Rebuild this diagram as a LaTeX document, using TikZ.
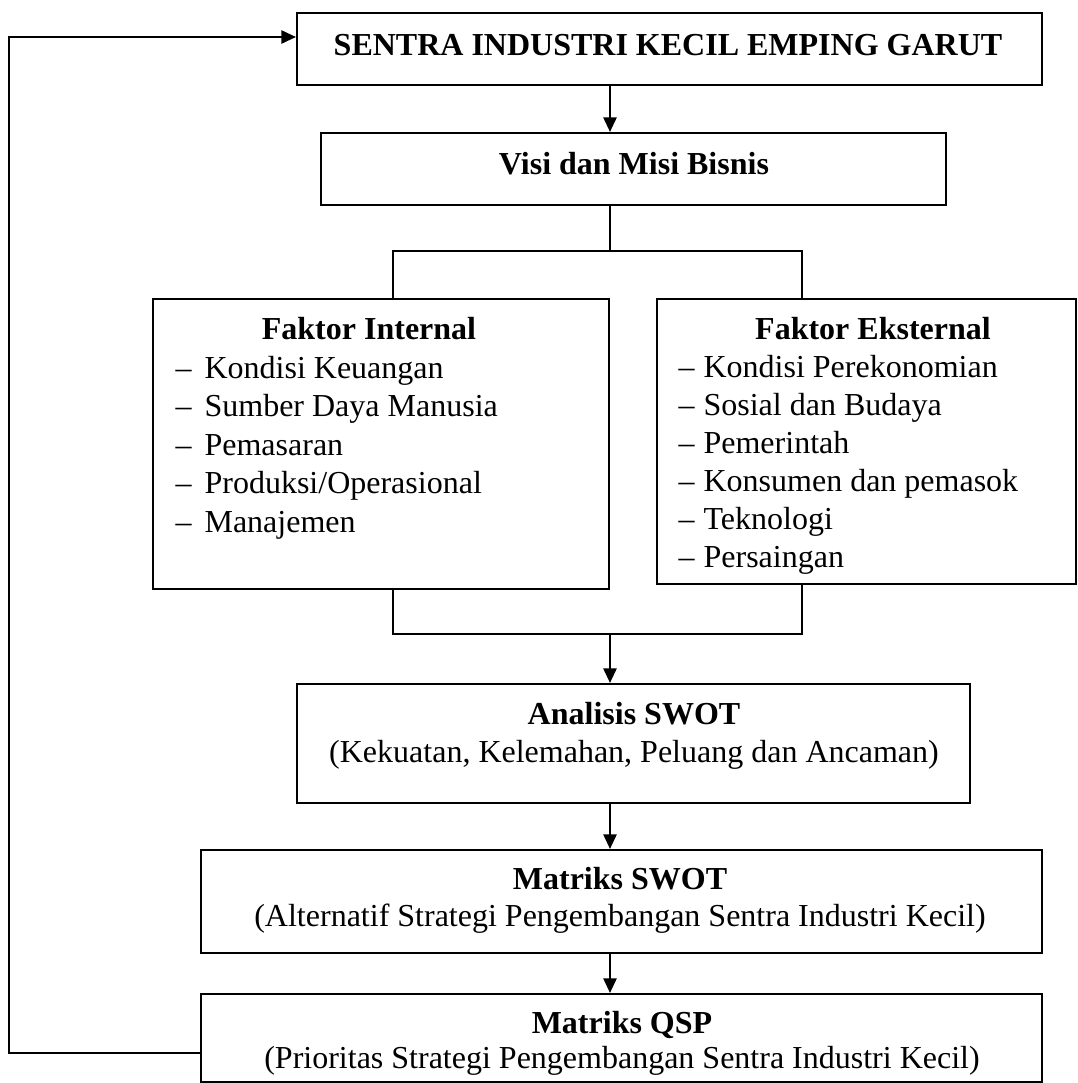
\documentclass[tikz,border=0pt]{standalone}
\usepackage{fontspec}
\setmainfont{Liberation Serif}
\usetikzlibrary{arrows.meta, fit, positioning}

\begin{document}
\begin{tikzpicture}[
    x=0.375pt, y=-0.375pt,
    flowbox/.style={rectangle, draw, line width=0.8pt, inner sep=0pt},
    heading/.style={anchor=base, font=\fontsize{12}{14.5}\selectfont\bfseries},
    subline/.style={anchor=base, font=\fontsize{12}{14.5}\selectfont},
    listitem/.style={anchor=base west, inner sep=0pt, font=\fontsize{12}{14.5}\selectfont},
    link/.style={line width=0.7pt},
    flow/.style={link, -{Triangle[length=5.5pt, width=5pt]}}
]
\useasboundingbox (0,0) rectangle (1077,1083);

% Boxes
\node[flowbox, fit={(297,13) (1042,85)}] (sentra) {};
\node[flowbox, fit={(321,133) (946,205)}] (visi) {};
\node[flowbox, fit={(153,299) (609,589)}] (intern) {};
\node[flowbox, fit={(657,299) (1076,584)}] (ekstern) {};
\node[flowbox, fit={(297,684) (970,803)}] (analisis) {};
\node[flowbox, fit={(201,850) (1042,953)}] (mswot) {};
\node[flowbox, fit={(201,994) (1042,1082)}] (qsp) {};

% Texts
\node[heading] (sentratxt) at (668,55) {SENTRA INDUSTRI KECIL EMPING GARUT};
\node[heading] (visitxt) at (634,174) {Visi dan Misi Bisnis};
\node[heading] (interntxt) at (369,339) {Faktor Internal};
\node[heading] (eksterntxt) at (873,339) {Faktor Eksternal};
\node[heading] (analisistxt) at (634,724) {Analisis SWOT};
\node[subline] (analisissub) at (634,762) {(Kekuatan, Kelemahan, Peluang dan Ancaman)};
\node[heading] (mswottxt) at (620,889) {Matriks SWOT};
\node[subline] (mswotsub) at (620,926) {(Alternatif Strategi Pengembangan Sentra Industri Kecil)};
\node[heading] (qsptxt) at (622,1033) {Matriks QSP};
\node[subline] (qspsub) at (622,1068) {(Prioritas Strategi Pengembangan Sentra Industri Kecil)};

% Lists
\foreach \entry [count=\i] in {Kondisi Keuangan, Sumber Daya Manusia, Pemasaran, Produksi/Operasional, Manajemen}
    \node[listitem] (intern\i) at (175, {378+38.6*(\i-1)}) {\makebox[10.9pt][l]{–}\entry};
\foreach \entry [count=\i] in {Kondisi Perekonomian, Sosial dan Budaya, Pemerintah, Konsumen dan pemasok, Teknologi, Persaingan}
    \node[listitem] (ekstern\i) at (678, {377+38*(\i-1)}) {\makebox[9.4pt][l]{–}\entry};

% Connectors
\coordinate (spine) at (610,0);
\coordinate (splitL) at (393,251);
\coordinate (splitR) at (802,251);
\coordinate (joinL) at (393,634);
\coordinate (joinR) at (802,634);
\coordinate (fbtop) at (9,37);
\coordinate (fbbot) at (9,1053);

\draw[flow] (sentra.south -| spine) -- (visi.north -| spine);
\draw[link] (visi.south -| spine) -- (splitL -| spine);
\draw[link] (intern.north -| splitL) -- (splitL) -- (splitR) -- (ekstern.north -| splitR);
\draw[link] (intern.south -| joinL) -- (joinL) -- (joinR) -- (ekstern.south -| joinR);
\draw[flow] (joinL -| spine) -- (analisis.north -| spine);
\draw[flow] (analisis.south -| spine) -- (mswot.north -| spine);
\draw[flow] (mswot.south -| spine) -- (qsp.north -| spine);
\draw[flow] (qsp.west |- fbbot) -- (fbbot) -- (fbtop) -- (sentra.west |- fbtop);

\end{tikzpicture}
\end{document}
